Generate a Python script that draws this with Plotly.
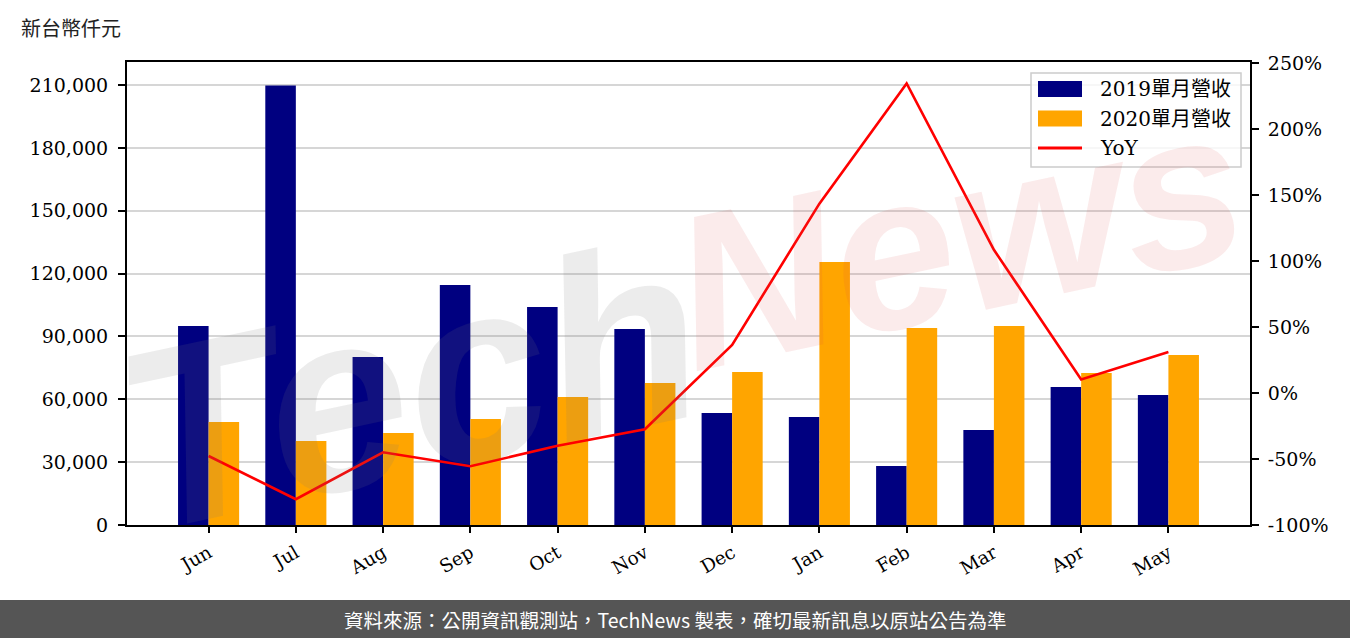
import plotly.graph_objects as go

months = ["Jun", "Jul", "Aug", "Sep", "Oct", "Nov", "Dec", "Jan", "Feb", "Mar", "Apr", "May"]
rev_2019 = [95000, 209800, 80200, 114500, 104000, 93500, 53500, 51500, 28200, 45300, 65900, 62000]
rev_2020 = [49200, 40100, 43900, 50600, 61100, 67800, 73000, 125500, 94000, 95000, 72500, 81100]
yoy = [-47.7, -80.5, -44.9, -55.5, -40.0, -27.4, 36.4, 143.5, 234.5, 108.5, 10.2, 31.0]

left_ticks = [0, 30000, 60000, 90000, 120000, 150000, 180000, 210000]
left_text = ["0", "30,000", "60,000", "90,000", "120,000", "150,000", "180,000", "210,000"]
right_ticks = [-100, -50, 0, 50, 100, 150, 200, 250]
right_text = ["-100%", "-50%", "0%", "50%", "100%", "150%", "200%", "250%"]

series_names = ["2019單月營收", "2020單月營收", "YoY"]
series_colors = ["#000080", "#FFA500", "#FF0000"]

W, H = 1350, 638
L, R, T, B = 127, 100, 62, 113
pw, ph = W - L - R, H - T - B

def px(x):
    return (x - L) / pw

def py(y):
    return (H - B - y) / ph

serif = "DejaVu Serif, Noto Sans CJK TC"

fig = go.Figure()
fig.add_trace(go.Bar(x=months, y=rev_2019, name=series_names[0], marker_color=series_colors[0],
                     marker_line_width=0))
fig.add_trace(go.Bar(x=months, y=rev_2020, name=series_names[1], marker_color=series_colors[1],
                     marker_line_width=0))
fig.add_trace(go.Scatter(x=months, y=yoy, name=series_names[2], mode="lines", yaxis="y2",
                         line=dict(color=series_colors[2], width=2.6)))

# watermark (semi-transparent, over everything)
for txt, cx, cy, size, col in [("Tech", 410, 385, 255, "rgba(120,120,120,0.14)"),
                               ("News", 958, 238, 220, "rgba(215,70,70,0.11)")]:
    fig.add_annotation(xref="paper", yref="paper", x=px(cx), y=py(cy), text=txt,
                       showarrow=False, xanchor="center", yanchor="middle", textangle=-12,
                       font=dict(family="Liberation Sans", size=size, color=col,
                                 style="italic", weight="bold"))

# custom legend
fig.add_shape(type="rect", xref="paper", yref="paper",
              x0=px(1031), x1=px(1241), y0=py(167), y1=py(73),
              line=dict(color="#cccccc", width=1.5), fillcolor="rgba(255,255,255,0.8)",
              layer="above")
legend_y = [89, 118.5, 148]
for i, (nm, col) in enumerate(zip(series_names, series_colors)):
    yc = legend_y[i]
    if i < 2:
        fig.add_shape(type="rect", xref="paper", yref="paper",
                      x0=px(1038), x1=px(1082), y0=py(yc + 8), y1=py(yc - 8),
                      line=dict(width=0), fillcolor=col, layer="above")
    else:
        fig.add_shape(type="line", xref="paper", yref="paper",
                      x0=px(1038), x1=px(1082), y0=py(yc), y1=py(yc),
                      line=dict(color=col, width=3), layer="above")
    fig.add_annotation(xref="paper", yref="paper", x=px(1098), y=py(yc), text=nm,
                       showarrow=False, xanchor="left", yanchor="middle",
                       font=dict(family=serif, size=20, color="black"))

# footer
fig.add_shape(type="rect", xref="paper", yref="paper",
              x0=px(0), x1=px(W), y0=py(600), y1=py(H + 2),
              line=dict(width=0), fillcolor="#555555", layer="above")
fig.add_annotation(xref="paper", yref="paper", x=px(W / 2), y=py(619),
                   text="資料來源：公開資訊觀測站，TechNews 製表，確切最新訊息以原站公告為準",
                   showarrow=False, xanchor="center", yanchor="middle",
                   font=dict(family="Noto Sans CJK TC", size=19.5, color="white"))
fig.add_annotation(xref="paper", yref="paper", x=px(19), y=py(27),
                   text="新台幣仟元", showarrow=False, xanchor="left", yanchor="middle",
                   font=dict(family="Noto Sans CJK TC", size=20, color="#222"))

fig.update_layout(
    width=W, height=H,
    margin=dict(l=L, r=R, t=T, b=B, pad=0),
    paper_bgcolor="white", plot_bgcolor="white",
    barmode="group", bargap=0.3, bargroupgap=0,
    font=dict(family=serif, size=19, color="black"),
    showlegend=False,
    xaxis=dict(range=[-0.935, 11.935], tickangle=-30, showline=True, linecolor="black",
               linewidth=2, mirror=True, ticks="outside", ticklen=6, tickwidth=1.5,
               tickcolor="black", showgrid=False, tickfont=dict(family=serif, size=18.5),
               ticklabelstandoff=2),
    yaxis=dict(range=[0, 220977], tickvals=left_ticks, ticktext=left_text, showline=True,
               linecolor="black", linewidth=2, ticks="outside", ticklen=7, tickwidth=1.5,
               tickcolor="black", showgrid=True, gridcolor="#d6d6d6", gridwidth=1.5,
               zeroline=False, tickfont=dict(family=serif, size=19), ticklabelstandoff=6),
    yaxis2=dict(range=[-100, 250.8], tickvals=right_ticks, ticktext=right_text,
                overlaying="y", side="right", showline=True, linecolor="black",
                linewidth=2, ticks="outside", ticklen=7, tickwidth=1.5, tickcolor="black",
                showgrid=False, zeroline=False, tickfont=dict(family=serif, size=19),
                ticklabelstandoff=5),
)

fig.write_html("out.html", config={"displayModeBar": False},
               post_script="document.body.style.margin='0';document.body.style.padding='0';")
